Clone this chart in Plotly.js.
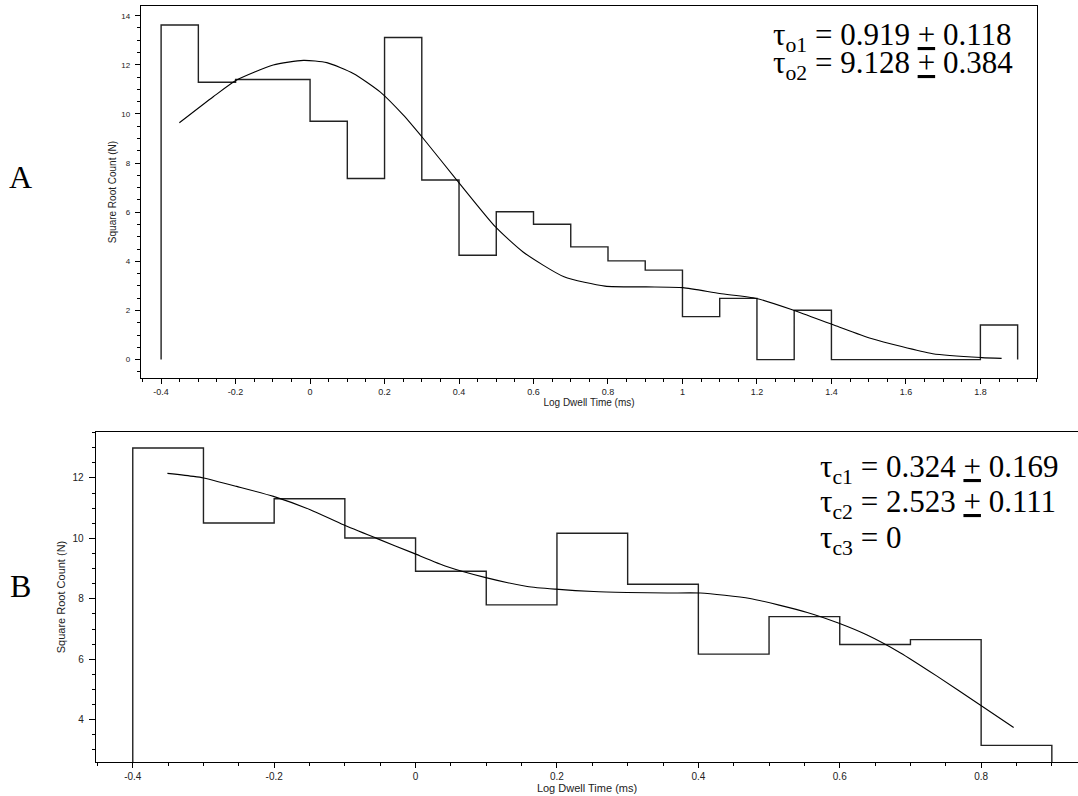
<!DOCTYPE html>
<html><head><meta charset="utf-8">
<script src="https://cdn.plot.ly/plotly-3.0.1.min.js"></script>
<style>html,body{margin:0;padding:0;background:#fff}#chart{width:1078px;height:796px}</style>
</head><body><div id="chart"></div>
<script>
// ---------- Panel A (open dwell times) ----------
const binEdgesA = [-0.4, -0.3, -0.2, -0.1, 0, 0.1, 0.2, 0.3, 0.4, 0.5, 0.6, 0.7, 0.8, 0.9, 1.0, 1.1, 1.2, 1.3, 1.4, 1.5, 1.6, 1.7, 1.8, 1.9];
const countsA = [13.62, 11.29, 11.40, 11.40, 9.70, 7.37, 13.11, 7.31, 4.25, 6.02, 5.51, 4.59, 4.02, 3.64, 1.75, 2.49, 0, 2.01, 0, 0, 0, 0, 1.41];
const fitXA = [-0.351, -0.26, -0.197, -0.099, -0.018, 0.045, 0.116, 0.188, 0.25, 0.304, 0.394, 0.498, 0.572, 0.682, 0.792, 0.902, 1.001, 1.10, 1.199, 1.298, 1.408, 1.507, 1.672, 1.804, 1.857];
const fitYA = [9.64, 10.70, 11.38, 11.99, 12.18, 12.09, 11.65, 10.90, 9.96, 9.0, 7.31, 5.40, 4.38, 3.37, 2.99, 2.96, 2.93, 2.69, 2.49, 2.01, 1.40, 0.86, 0.24, 0.08, 0.05];
const xTickValsA = [-0.4, -0.2, 0, 0.2, 0.4, 0.6, 0.8, 1, 1.2, 1.4, 1.6, 1.8];
const xTickTextA = ['-0.4', '-0.2', '0', '0.2', '0.4', '0.6', '0.8', '1', '1.2', '1.4', '1.6', '1.8'];
const yTickValsA = [0, 2, 4, 6, 8, 10, 12, 14];
const yTickTextA = ['0', '2', '4', '6', '8', '10', '12', '14'];
const labelsA = ['τ<sub>o1</sub> = 0.919 <u>+</u> 0.118', 'τ<sub>o2</sub> = 9.128 <u>+</u> 0.384'];

// ---------- Panel B (closed dwell times) ----------
const binEdgesB = [-0.4, -0.3, -0.2, -0.1, 0, 0.1, 0.2, 0.3, 0.4, 0.5, 0.6, 0.7, 0.8, 0.9];
const countsB = [12.99, 10.51, 11.31, 10.01, 8.91, 7.80, 10.17, 8.48, 6.17, 7.41, 6.49, 6.65, 3.15];
const fitXB = [-0.351, -0.314, -0.300, -0.253, -0.201, -0.149, -0.102, -0.055, -0.004, 0.044, 0.098, 0.158, 0.198, 0.252, 0.299, 0.356, 0.403, 0.473, 0.554, 0.598, 0.638, 0.686, 0.737, 0.796, 0.846];
const fitYB = [12.15, 12.05, 12.0, 11.72, 11.39, 10.95, 10.45, 10.0, 9.52, 9.07, 8.71, 8.41, 8.32, 8.24, 8.21, 8.19, 8.19, 8.01, 7.55, 7.20, 6.81, 6.21, 5.45, 4.53, 3.74];
const xTickValsB = [-0.4, -0.2, 0, 0.2, 0.4, 0.6, 0.8];
const xTickTextB = ['-0.4', '-0.2', '0', '0.2', '0.4', '0.6', '0.8'];
const yTickValsB = [4, 6, 8, 10, 12];
const yTickTextB = ['4', '6', '8', '10', '12'];
const labelsB = ['τ<sub>c1</sub> = 0.324 <u>+</u> 0.169', 'τ<sub>c2</sub> = 2.523 <u>+</u> 0.111', 'τ<sub>c3</sub> = 0'];

const xTitle = 'Log Dwell Time (ms)';
const yTitle = 'Square Root Count (N)';

function stepXY(edges, counts) {
  const x = [edges[0]], y = [0];
  for (let i = 0; i < counts.length; i++) { x.push(edges[i]); y.push(counts[i]); }
  x.push(edges[edges.length - 1]); y.push(0);
  return {x, y};
}
const sA = stepXY(binEdgesA, countsA);
const sB = stepXY(binEdgesB, countsB);

const W = 1078, H = 796;
const px = v => v / W;
const py = v => 1 - v / H;

const histLine = {color: '#222', width: 1.4, shape: 'hv'};
const fitLine = {color: '#000', width: 1.1, shape: 'spline', smoothing: 0.6};

const traces = [
  {x: sA.x, y: sA.y, mode: 'lines', line: histLine, xaxis: 'x', yaxis: 'y', hoverinfo: 'skip'},
  {x: fitXA, y: fitYA, mode: 'lines', line: fitLine, xaxis: 'x', yaxis: 'y', hoverinfo: 'skip'},
  {x: sB.x, y: sB.y, mode: 'lines', line: histLine, xaxis: 'x2', yaxis: 'y2', hoverinfo: 'skip'},
  {x: fitXB, y: fitYB, mode: 'lines', line: fitLine, xaxis: 'x2', yaxis: 'y2', hoverinfo: 'skip'}
];

const sans = 'Liberation Sans';
const serif = 'Liberation Serif';
const axBase = {
  showgrid: false, zeroline: false, showline: true, linecolor: '#000', linewidth: 1.3,
  ticks: 'outside', tickcolor: '#000', tickwidth: 1, tickmode: 'array', fixedrange: true
};

const annotations = [];
labelsA.forEach((t, i) => annotations.push({
  text: t, xref: 'paper', yref: 'paper', x: px(771), y: py(37 + i * 27.5),
  xanchor: 'left', yanchor: 'middle', showarrow: false,
  font: {family: serif, size: 31, color: '#000'}
}));
labelsB.forEach((t, i) => annotations.push({
  text: t, xref: 'paper', yref: 'paper', x: px(818), y: py(469 + i * 35.3),
  xanchor: 'left', yanchor: 'middle', showarrow: false,
  font: {family: serif, size: 31, color: '#000'}
}));
annotations.push({text: 'A', xref: 'paper', yref: 'paper', x: px(20), y: py(177), xanchor: 'center', yanchor: 'middle', showarrow: false, font: {family: serif, size: 32, color: '#000'}});
annotations.push({text: 'B', xref: 'paper', yref: 'paper', x: px(20), y: py(586), xanchor: 'center', yanchor: 'middle', showarrow: false, font: {family: serif, size: 32, color: '#000'}});

const layout = {
  width: W, height: H,
  margin: {l: 0, r: 0, t: 0, b: 0},
  paper_bgcolor: '#fff', plot_bgcolor: '#fff',
  showlegend: false,
  xaxis: Object.assign({}, axBase, {
    domain: [px(141), px(1037)], range: [-0.454, 1.952], anchor: 'y', mirror: true,
    tickvals: xTickValsA, ticktext: xTickTextA, ticklen: 5, ticklabelstandoff: 0,
    tickfont: {family: sans, size: 9, color: '#222'},
    minor: {tickmode: 'linear', tick0: 0, dtick: 0.05, ticks: 'outside', ticklen: 3, tickcolor: '#000', tickwidth: 1},
    title: {text: xTitle, font: {family: sans, size: 10, color: '#222'}, standoff: 2}
  }),
  yaxis: Object.assign({}, axBase, {
    domain: [py(378), py(6)], range: [-0.75, 14.395], anchor: 'x', mirror: true,
    tickvals: yTickValsA, ticktext: yTickTextA, ticklen: 5, ticklabelstandoff: 3,
    tickfont: {family: sans, size: 8, color: '#222'},
    minor: {tickmode: 'linear', tick0: 0, dtick: 0.5, ticks: 'outside', ticklen: 3, tickcolor: '#000', tickwidth: 1},
    title: {text: yTitle, font: {family: sans, size: 10, color: '#222'}, standoff: 2}
  }),
  xaxis2: Object.assign({}, axBase, {
    domain: [px(96), 1], range: [-0.452, 0.937], anchor: 'y2', mirror: true,
    tickvals: xTickValsB, ticktext: xTickTextB, ticklen: 5, ticklabelstandoff: 0,
    tickfont: {family: sans, size: 10, color: '#222'},
    minor: {tickmode: 'linear', tick0: 0, dtick: 0.05, ticks: 'outside', ticklen: 3, tickcolor: '#000', tickwidth: 1},
    title: {text: xTitle, font: {family: sans, size: 11, color: '#222'}, standoff: 2}
  }),
  yaxis2: Object.assign({}, axBase, {
    domain: [py(762), py(432)], range: [2.6, 13.52], anchor: 'x2', mirror: false,
    tickvals: yTickValsB, ticktext: yTickTextB, ticklen: 6, ticklabelstandoff: 3,
    tickfont: {family: sans, size: 10, color: '#222'},
    minor: {tickmode: 'linear', tick0: 0, dtick: 0.5, ticks: 'outside', ticklen: 3, tickcolor: '#000', tickwidth: 1},
    title: {text: yTitle, font: {family: sans, size: 11, color: '#222'}, standoff: 4}
  }),
  annotations: annotations
};

Plotly.newPlot('chart', traces, layout, {displayModeBar: false, staticPlot: true});
</script>
</body></html>
